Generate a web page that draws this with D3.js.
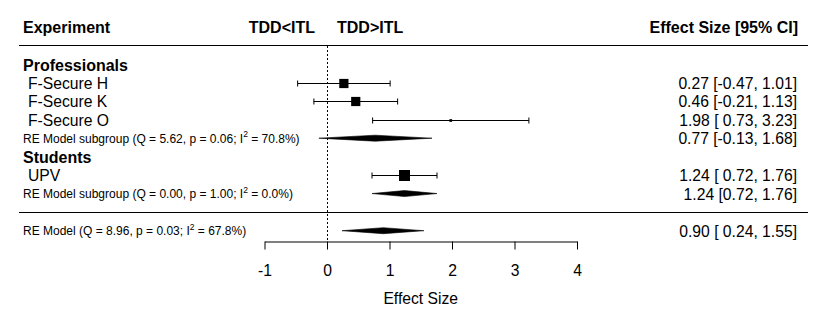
<!DOCTYPE html>
<html>
<head>
<meta charset="utf-8">
<script src="https://cdn.jsdelivr.net/npm/d3@7"></script>
<style>
    body { margin: 0; background: #fff; }
    svg { font-family: "Liberation Sans", Arial, sans-serif; }
</style>
</head>
<body>
<svg id="chart" width="827" height="317"></svg>
<script>
// ---------------------------------- Data ----------------------------------
var studyLabels = ["F-Secure H", "F-Secure K", "F-Secure O", "UPV"];
var studyGroups = ["Professionals", "Professionals", "Professionals", "Students"];
var studyEst = [0.27, 0.46, 1.98, 1.24];
var studyLow = [-0.47, -0.21, 0.73, 0.72];
var studyHigh = [1.01, 1.13, 3.23, 1.76];
var studyWeight = [0.7, 0.7, 0.06, 1.0];
var studyText = ["0.27 [-0.47, 1.01]", "0.46 [-0.21, 1.13]", "1.98 [ 0.73, 3.23]", "1.24 [ 0.72, 1.76]"];

var groupNames = ["Professionals", "Students"];
var groupQ = ["5.62", "0.00"];
var groupP = ["0.06", "1.00"];
var groupI2 = ["70.8%", "0.0%"];
var groupEst = [0.77, 1.24];
var groupLow = [-0.13, 0.72];
var groupHigh = [1.68, 1.76];
var groupText = ["0.77 [-0.13, 1.68]", "1.24 [0.72, 1.76]"];

var overallQ = "8.96", overallP = "0.03", overallI2 = "67.8%";
var overallEst = 0.90, overallLow = 0.24, overallHigh = 1.55;
var overallText = "0.90 [ 0.24, 1.55]";

var axisTicks = [-1, 0, 1, 2, 3, 4];

// ---------------------------------- Layout ----------------------------------
var svg = d3.select("#chart");
var x = d3.scaleLinear().domain([-1, 4]).range([264.5, 577]);
var rightEdge = 797;
var axisY = 241;
var fs = 15.7, fsBold = 16, fsSmall = 12;

// row positions (top to bottom)
var rows = [];
var yPos = 64.4, step = 18.45;
groupNames.forEach(function (g, gi) {
    rows.push({ type: "group", gi: gi, y: yPos }); yPos += step;
    studyLabels.forEach(function (s, i) {
        if (studyGroups[i] == g) { rows.push({ type: "study", i: i, y: yPos }); yPos += step; }
    });
    rows.push({ type: "sub", gi: gi, y: yPos }); yPos += step;
});

// header
svg.append("text").attr("x", 23).attr("y", 33).attr("font-weight", "bold").attr("font-size", fsBold).text("Experiment");
svg.append("text").attr("x", 315).attr("y", 33).attr("text-anchor", "end").attr("font-weight", "bold").attr("font-size", fsBold).text("TDD<ITL");
svg.append("text").attr("x", 337).attr("y", 33).attr("font-weight", "bold").attr("font-size", fsBold).text("TDD>ITL");
svg.append("text").attr("x", rightEdge + 1).attr("y", 33).attr("text-anchor", "end").attr("font-weight", "bold").attr("font-size", fsBold).text("Effect Size [95% CI]");

svg.append("line").attr("x1", 19).attr("x2", 808).attr("y1", 45.5).attr("y2", 45.5).attr("stroke", "#000");
svg.append("line").attr("x1", 19).attr("x2", 808).attr("y1", 212.5).attr("y2", 212.5).attr("stroke", "#000");

// reference line at zero
svg.append("line").attr("x1", Math.round(x(0)) + 0.5).attr("x2", Math.round(x(0)) + 0.5)
    .attr("y1", 46).attr("y2", axisY).attr("stroke", "#000").attr("stroke-dasharray", "2,2");

function modelLabel(y, prefix, q, p, i2) {
    var t = svg.append("text").attr("x", 23).attr("y", y + 4.5).attr("font-size", fsSmall);
    t.append("tspan").text(prefix + " (Q = " + q + ", p = " + p + "; I");
    t.append("tspan").attr("dy", -5.5).attr("font-size", 8.5).text("2");
    t.append("tspan").attr("dy", 5.5).text(" = " + i2 + ")");
}

function diamond(y, est, lo, hi) {
    var h = 3;
    svg.append("path")
        .attr("d", "M" + x(lo) + "," + y + "L" + x(est) + "," + (y - h) + "L" + x(hi) + "," + y + "L" + x(est) + "," + (y + h) + "Z")
        .attr("fill", "#000").attr("stroke", "#000").attr("stroke-width", 0.6);
}

var sizeScale = d3.scaleSqrt().domain([0, 1]).range([0, 11]);

rows.forEach(function (r) {
    var y = r.y;
    if (r.type == "group") {
        svg.append("text").attr("x", 23).attr("y", y + 6.5).attr("font-weight", "bold").attr("font-size", fsBold).text(groupNames[r.gi]);
    } else if (r.type == "study") {
        var i = r.i;
        svg.append("text").attr("x", 28).attr("y", y + 6).attr("font-size", fs).text(studyLabels[i]);
        var yy = Math.round(y) + 0.5;
        svg.append("line").attr("x1", x(studyLow[i])).attr("x2", x(studyHigh[i])).attr("y1", yy).attr("y2", yy).attr("stroke", "#000");
        [studyLow[i], studyHigh[i]].forEach(function (v) {
            svg.append("line").attr("x1", x(v)).attr("x2", x(v)).attr("y1", yy - 3).attr("y2", yy + 3).attr("stroke", "#000");
        });
        var s = sizeScale(studyWeight[i]);
        svg.append("rect").attr("x", x(studyEst[i]) - s / 2).attr("y", yy - s / 2).attr("width", s).attr("height", s).attr("fill", "#000");
        svg.append("text").attr("x", rightEdge).attr("y", y + 6).attr("text-anchor", "end").attr("font-size", fs).text(studyText[i]);
    } else {
        var gi = r.gi;
        modelLabel(y, "RE Model subgroup", groupQ[gi], groupP[gi], groupI2[gi]);
        diamond(y, groupEst[gi], groupLow[gi], groupHigh[gi]);
        svg.append("text").attr("x", rightEdge).attr("y", y + 6).attr("text-anchor", "end").attr("font-size", fs).text(groupText[gi]);
    }
});

// overall model
var oy = 230.7;
modelLabel(oy, "RE Model", overallQ, overallP, overallI2);
diamond(oy, overallEst, overallLow, overallHigh);
svg.append("text").attr("x", rightEdge).attr("y", oy + 6).attr("text-anchor", "end").attr("font-size", fs).text(overallText);

// x axis
var axis = svg.append("g")
    .attr("transform", "translate(0," + (axisY + 0.5) + ")")
    .call(d3.axisBottom(x).tickValues(axisTicks).tickFormat(function (d) { return String(d); })
        .tickSize(8).tickSizeOuter(0).tickPadding(15));
axis.selectAll("text").attr("font-size", fs).attr("font-family", "Liberation Sans, Arial, sans-serif").attr("fill", "#000");
axis.selectAll("line").attr("stroke", "#000");
axis.select(".domain").attr("stroke", "#000");

svg.append("text").attr("x", x(1.5)).attr("y", 304).attr("text-anchor", "middle").attr("font-size", fs).text("Effect Size");
</script>
</body>
</html>
